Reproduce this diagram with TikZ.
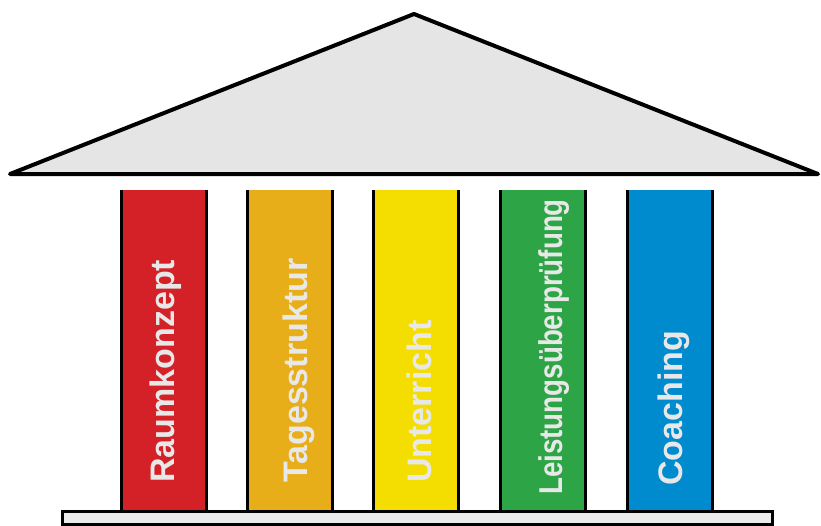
\documentclass[tikz,border=0pt]{standalone}
\usepackage{fontspec}
\setmainfont{Liberation Sans}
\newfontfamily\narrowsans[FakeStretch=0.84]{Liberation Sans}
\usepackage{xcolor}
\usetikzlibrary{positioning}

\definecolor{roofgray}{HTML}{E5E5E5}
\definecolor{basegray}{HTML}{EBEBEB}
\definecolor{textgray}{HTML}{E8E8E8}
\definecolor{pred}{HTML}{D42127}
\definecolor{porange}{HTML}{E8AE1A}
\definecolor{pyellow}{HTML}{F4DD00}
\definecolor{pgreen}{HTML}{2DA547}
\definecolor{pblue}{HTML}{008BCF}

\begin{document}
\begin{tikzpicture}[x=1pt, y=-1pt,
        pillar/.style={rectangle, inner sep=0pt, minimum width=84pt, minimum height=320pt},
        side/.style={line width=3pt},
        pillartext/.style={rotate=90, anchor=base west, inner sep=0pt, text=textgray,
            font=\fontsize{34}{40}\selectfont\bfseries}]
        \useasboundingbox (0,0) rectangle (821,525);

        % roof and base
        \draw[line width=4pt, line join=round, fill=roofgray] (10,174) -- (414,14) -- (818,174) -- cycle;
        \draw[line width=3pt, fill=basegray] (62,511) rectangle (772,524);

        % the five pillars
        \node[pillar, fill=pred] (p1) at (164,350) {};
        \node[pillar, fill=porange] (p2) at (290,350) {};
        \node[pillar, fill=pyellow] (p3) at (416,350) {};
        \node[pillar, fill=pgreen] (p4) at (543,350) {};
        \node[pillar, fill=pblue] (p5) at (670,350) {};
        \foreach \p in {p1,p2,p3,p4,p5} {
            \draw[side] (\p.north west) -- (\p.south west);
            \draw[side] (\p.north east) -- (\p.south east);
        }

        \node[pillartext] (t1) at (174,483) {Raumkonzept};
        \node[pillartext] (t2) at (307,483) {Tagesstruktur};
        \node[pillartext] (t3) at (431,483) {Unterricht};
        \node[pillartext, font=\fontsize{33}{40}\narrowsans\bfseries] (t4) at (562,495) {Leistungsüberprüfung};
        \node[pillartext] (t5) at (682,486) {Coaching};
    \end{tikzpicture}
\end{document}
